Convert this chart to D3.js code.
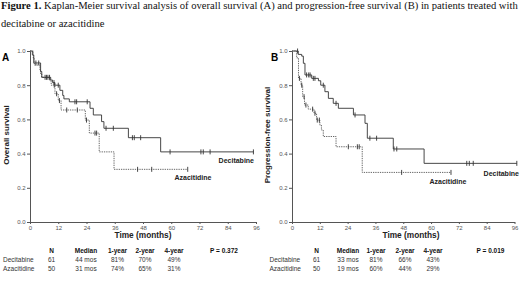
<!DOCTYPE html>
<html>
<head>
<meta charset="utf-8">
<script src="https://cdn.jsdelivr.net/npm/d3@7"></script>
<style>
  body { margin: 0; background: #fff; }
  svg { display: block; }
  .tick text { fill: #555; }
  .domain, .tick line { stroke: #555; }
</style>
</head>
<body>
<svg width="520" height="285"></svg>
<script>
// step points: [months, survival]; last point just extends the curve
var osDecitabine = [[0,1],[1.0,0.977],[1.6,0.93],[4.5,0.88],[5.0,0.846],[8.8,0.83],[9.6,0.815],[10.6,0.80],
  [12.7,0.77],[13.9,0.74],[14.4,0.72],[16.7,0.703],[25.5,0.665],[26.9,0.626],[30.4,0.587],[31.4,0.548],
  [41.8,0.493],[55.5,0.41],[95,0.41]];
var osDecitabineCensor = [2.5,3.7,6.4,7.0,7.6,8.3,10.2,12.0,19.1,19.8,24.3,32.3,35.4,43.5,44.3,47,59.5,72.6,73.6,76.5,94.9];
var osAzacitidine = [[0,1],[1.4,0.957],[1.8,0.918],[4.2,0.89],[4.5,0.865],[5.0,0.846],[8.5,0.825],[9.0,0.80],
  [10.6,0.75],[12.0,0.71],[13.2,0.655],[23.5,0.596],[25.2,0.52],[29.4,0.41],[35.7,0.308],[67,0.308]];
var osAzacitidineCensor = [10.3,11.3,12.5,15.6,20.1,24.0,27.6,28.3,45.7,51.7,67];

var pfsDecitabine = [[0,1],[2.7,0.98],[4.2,0.97],[4.9,0.928],[5.6,0.86],[8.5,0.84],[11.4,0.826],[12.4,0.80],
  [14.2,0.762],[15.7,0.723],[17.8,0.694],[20,0.665],[26.5,0.626],[31.5,0.577],[32.5,0.49],[43.7,0.427],
  [57,0.343],[97,0.343]];
var pfsDecitabineCensor = [2.4,6.3,7.2,7.8,9.2,9.9,13.5,19.0,27.2,33.6,36.5,44,45.2,75.4,76.5,78.2,97];
var pfsAzacitidine = [[0,1],[2.0,0.96],[2.8,0.84],[3.9,0.80],[4.6,0.733],[5.4,0.684],[7.0,0.66],[9.5,0.636],
  [10.6,0.596],[12.0,0.567],[12.7,0.538],[13.5,0.50],[19,0.44],[30.3,0.29],[68.6,0.29]];
var pfsAzacitidineCensor = [3.2,4.2,5.2,6.0,8.9,9.9,10.9,11.8,24.3,28.2,29.0,47.3,68.6];

var monthTicks = [0,12,24,36,48,60,72,84,96];
var survTicks = [0,0.2,0.4,0.6,0.8,1.0];

var tableHeader = ["N","Median","1-year","2-year","4-year"];
var osTable = [["Decitabine","61","44 mos","81%","70%","49%"],["Azacitidine","50","31 mos","74%","65%","31%"]];
var pfsTable = [["Decitabine","61","33 mos","81%","66%","43%"],["Azacitidine","50","19 mos","60%","44%","29%"]];
var osP = "P =  0.372", pfsP = "P =  0.019";

var svg = d3.select("svg");

// caption
var cap = svg.append("text").attr("x", 1).attr("y", 9)
    .style("font-family", "Liberation Serif, Times New Roman, serif").style("font-size", "10.6px").attr("fill", "#111");
cap.append("tspan").style("font-weight", "bold").text("Figure 1.");
cap.append("tspan").text(" Kaplan-Meier survival analysis of overall survival (A) and progression-free survival (B) in patients treated with");
svg.append("text").attr("x", 1).attr("y", 26.5)
    .style("font-family", "Liberation Serif, Times New Roman, serif").style("font-size", "10.6px").attr("fill", "#111")
    .text("decitabine or azacitidine");

function stepAt(steps, t) {
  var s = steps[0][1];
  steps.forEach(function(p) { if (p[0] <= t) s = p[1]; });
  return s;
}

function panel(o) {
  var x = d3.scaleLinear().domain([0, 96]).range([o.left, o.right]);
  var y = d3.scaleLinear().domain([0, 1]).range([222, 51]);
  var g = svg.append("g").style("font-family", "Liberation Sans, Arial, sans-serif");

  g.append("g")
      .attr("transform", "translate(0,222)")
      .call(d3.axisBottom(x).tickValues(monthTicks).tickSize(2).tickSizeOuter(0).tickPadding(1.5))
      .call(function(a) { a.selectAll("text").style("font-size", "6px"); });

  g.append("g")
      .attr("transform", "translate(" + o.left + ",0)")
      .call(d3.axisLeft(y).tickValues(survTicks).tickFormat(d3.format(".1f")).tickSize(3).tickSizeOuter(0).tickPadding(1.5))
      .call(function(a) { a.selectAll("text").style("font-size", "6px"); });

  var line = d3.line()
      .x(function(d) { return x(d[0]); })
      .y(function(d) { return y(d[1]); })
      .curve(d3.curveStepAfter);

  [[o.aza, o.azaC, "1.3,1"], [o.dec, o.decC, null]].forEach(function(c) {
    g.append("path").datum(c[0])
        .attr("d", line)
        .attr("fill", "none")
        .attr("stroke", c[2] ? "#555" : "#333")
        .attr("stroke-width", 0.9)
        .attr("stroke-dasharray", c[2]);
    g.selectAll(null).data(c[1]).enter().append("line")
        .attr("x1", function(t) { return x(t); })
        .attr("x2", function(t) { return x(t); })
        .attr("y1", function(t) { return y(stepAt(c[0], t)) - 2.5; })
        .attr("y2", function(t) { return y(stepAt(c[0], t)) + 2.5; })
        .attr("stroke", "#333").attr("stroke-width", 0.9);
  });

  g.append("text").attr("x", o.letterX).attr("y", 61).style("font-size", "10px").style("font-weight", "bold")
      .text(o.letter);
  g.append("text").attr("transform", "translate(" + o.ytitleX + ",135) rotate(-90)")
      .attr("text-anchor", "middle").style("font-size", "8px").style("font-weight", "bold").attr("fill", "#222")
      .text(o.ytitle);
  g.append("text").attr("x", o.xtitleX).attr("y", 237.5).attr("text-anchor", "middle")
      .style("font-size", "8.3px").style("font-weight", "bold").attr("fill", "#222").text("Time (months)");

  g.append("text").attr("x", o.decLab[0]).attr("y", o.decLab[1]).attr("text-anchor", "end")
      .style("font-size", "7px").style("font-weight", "bold").attr("fill", "#222").text("Decitabine");
  g.append("text").attr("x", o.azaLab[0]).attr("y", o.azaLab[1]).attr("text-anchor", "middle")
      .style("font-size", "7px").style("font-weight", "bold").attr("fill", "#222").text("Azacitidine");

  // summary table
  var tg = g.append("g").style("font-size", "6.5px").attr("fill", "#333");
  tableHeader.forEach(function(h, i) {
    tg.append("text").attr("x", o.cols[i]).attr("y", 253).attr("text-anchor", "middle")
        .style("font-weight", "bold").attr("fill", "#111").text(h);
  });
  tg.append("text").attr("x", o.pX).attr("y", 253).attr("text-anchor", "middle")
      .style("font-weight", "bold").attr("fill", "#111").text(o.p);
  o.table.forEach(function(row, r) {
    var yy = 261.5 + r * 9;
    tg.append("text").attr("x", o.rowX).attr("y", yy).text(row[0]);
    row.slice(1).forEach(function(v, i) {
      tg.append("text").attr("x", o.cols[i]).attr("y", yy).attr("text-anchor", "middle").text(v);
    });
  });
}

panel({left: 30, right: 256, dec: osDecitabine, decC: osDecitabineCensor, aza: osAzacitidine, azaC: osAzacitidineCensor,
  letter: "A", letterX: 2, ytitle: "Overall survival", ytitleX: 9, xtitleX: 143,
  decLab: [254, 163], azaLab: [193, 180], cols: [51.5, 86, 117.5, 145, 174], pX: 224, p: osP, table: osTable, rowX: 3});

panel({left: 292, right: 514.5, dec: pfsDecitabine, decC: pfsDecitabineCensor, aza: pfsAzacitidine, azaC: pfsAzacitidineCensor,
  letter: "B", letterX: 271, ytitle: "Progression-free survival", ytitleX: 270, xtitleX: 411,
  decLab: [519, 176], azaLab: [448, 183.5], cols: [316.5, 348, 376, 405, 433], pX: 490.5, p: pfsP, table: pfsTable, rowX: 269.5});
</script>
</body>
</html>
